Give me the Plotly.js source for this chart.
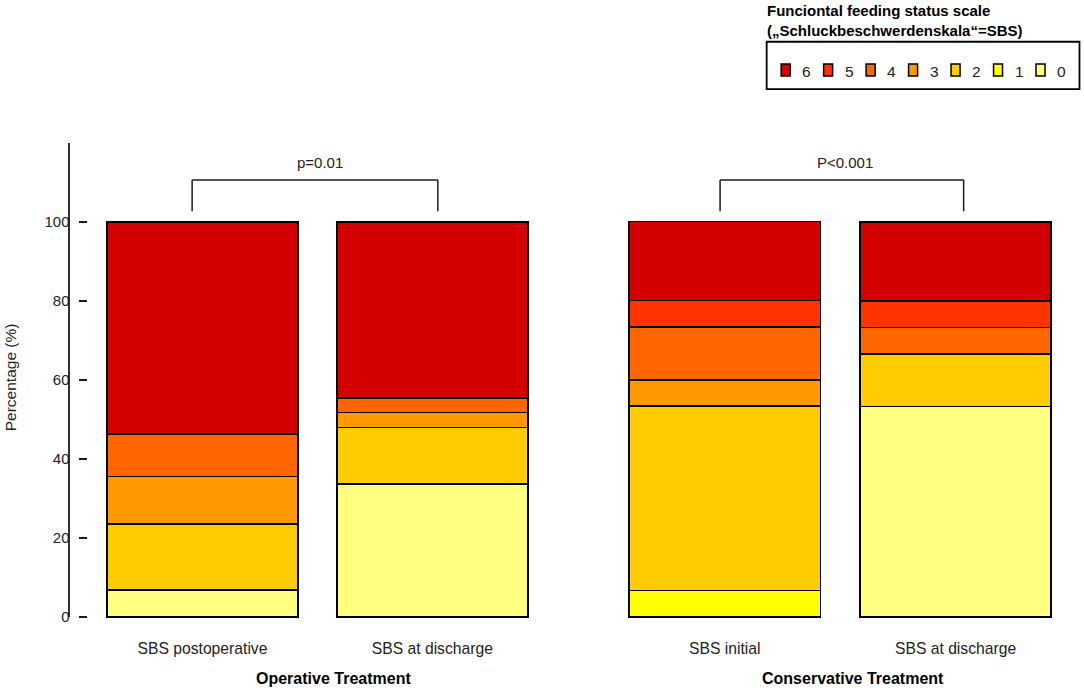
<!DOCTYPE html>
<html>
<head>
<meta charset="utf-8">
<script src="https://cdn.plot.ly/plotly-3.0.1.min.js"></script>
<style>html,body{margin:0;padding:0;background:#fff;} #chart{width:1084px;height:690px;}</style>
</head>
<body>
<div id="chart"></div>
<script>
// Categories
const opCategories = ["SBS postoperative", "SBS at discharge"];
const consCategories = ["SBS initial", "SBS at discharge"];
const groupTitles = ["Operative Treatment", "Conservative Treatment"];
const pValues = ["p=0.01", "P<0.001"];
const legendTitle = "Funciontal feeding status scale<br>(„Schluckbeschwerdenskala“=SBS)";

// Score levels (bottom to top) and colours
const scores = ["0", "1", "2", "3", "4", "5", "6"];
const scoreColors = ["#FFFF80", "#FFFF00", "#FFCC00", "#FF9900", "#FF6600", "#FF3300", "#D40000"];

// Percentages per score: operative [postoperative, discharge]
const op0 = [6.9, 33.7];
const op1 = [0, 0];
const op2 = [16.6, 14.3];
const op3 = [12.1, 3.8];
const op4 = [10.8, 3.7];
const op5 = [0, 0];
const op6 = [53.6, 44.5];

// Percentages per score: conservative [initial, discharge]
const cons0 = [0, 53.3];
const cons1 = [6.7, 0];
const cons2 = [46.7, 13.3];
const cons3 = [6.7, 0];
const cons4 = [13.3, 6.7];
const cons5 = [6.7, 6.7];
const cons6 = [20.0, 20.0];

const yTicks = [0, 20, 40, 60, 80, 100];

const opSeries = [op0, op1, op2, op3, op4, op5, op6];
const consSeries = [cons0, cons1, cons2, cons3, cons4, cons5, cons6];

// layout geometry (pixels)
const W = 1084, H = 690;
const M = {l: 69, r: 12.5, t: 138.9, b: 69.35};
const PW = W - M.l - M.r, PH = H - M.t - M.b;
const px2x = p => (p - M.l) / PW;
const px2y = p => (H - M.b - p) / PH;

const traces = [];
scores.forEach((s, i) => {
  traces.push({
    type: "bar", name: s, x: opCategories, y: opSeries[i],
    xaxis: "x", yaxis: "y",
    marker: {color: scoreColors[i], line: {color: "#000", width: 1.8}},
    legendgroup: s, showlegend: false,
    hoverinfo: "x+y+name"
  });
  traces.push({
    type: "bar", name: s, x: consCategories, y: consSeries[i],
    xaxis: "x2", yaxis: "y",
    marker: {color: scoreColors[i], line: {color: "#000", width: 1.8}},
    legendgroup: s, showlegend: false,
    hoverinfo: "x+y+name"
  });
});

const FONT = "Liberation Sans, Arial, sans-serif";
const TXT = "#222";
const lineCol = "#1a1a1a";

const shapes = [
  // y axis line from 0 to 120
  {type: "line", xref: "paper", yref: "y", x0: 0, x1: 0, y0: 0, y1: 120, line: {color: lineCol, width: 1.8}},
  // bracket operative
  {type: "line", xref: "x", yref: "y", x0: -0.045, x1: -0.045, y0: 102.7, y1: 110.6, line: {color: lineCol, width: 1.5}},
  {type: "line", xref: "x", yref: "y", x0: -0.045, x1: 1.024, y0: 110.6, y1: 110.6, line: {color: lineCol, width: 1.5}},
  {type: "line", xref: "x", yref: "y", x0: 1.024, x1: 1.024, y0: 102.7, y1: 110.6, line: {color: lineCol, width: 1.5}},
  // bracket conservative
  {type: "line", xref: "x2", yref: "y", x0: -0.02, x1: -0.02, y0: 102.7, y1: 110.6, line: {color: lineCol, width: 1.5}},
  {type: "line", xref: "x2", yref: "y", x0: -0.02, x1: 1.035, y0: 110.6, y1: 110.6, line: {color: lineCol, width: 1.5}},
  {type: "line", xref: "x2", yref: "y", x0: 1.035, x1: 1.035, y0: 102.7, y1: 110.6, line: {color: lineCol, width: 1.5}},
  // legend box
  {type: "rect", xref: "paper", yref: "paper", x0: px2x(767), x1: px2x(1080), y0: px2y(89), y1: px2y(41.7),
   line: {color: "#000", width: 1.8}, fillcolor: "rgba(0,0,0,0)"}
];

const annotations = [
  {xref: "x", yref: "y", x: 0.51, y: 115.1, xanchor: "center", yanchor: "middle", text: pValues[0], showarrow: false, font: {family: FONT, size: 15, color: TXT}},
  {xref: "x2", yref: "y", x: 0.52, y: 115.1, xanchor: "center", yanchor: "middle", text: pValues[1], showarrow: false, font: {family: FONT, size: 15, color: TXT}},
  {xref: "paper", yref: "paper", x: px2x(333.5), y: px2y(678), xanchor: "center", yanchor: "middle", text: "<b>" + groupTitles[0] + "</b>", showarrow: false, font: {family: FONT, size: 16, color: "#000"}},
  {xref: "paper", yref: "paper", x: px2x(853), y: px2y(678), xanchor: "center", yanchor: "middle", text: "<b>" + groupTitles[1] + "</b>", showarrow: false, font: {family: FONT, size: 16, color: "#000"}},
  {xref: "paper", yref: "paper", x: px2x(10), y: px2y(377), xanchor: "center", yanchor: "middle", text: "Percentage (%)", textangle: -90, showarrow: false, font: {family: FONT, size: 15.5, color: TXT}},
  {xref: "paper", yref: "paper", x: px2x(765), y: px2y(0), xanchor: "left", yanchor: "top", align: "left",
   text: "<b>" + legendTitle + "</b>", showarrow: false,
   font: {family: FONT, size: 15, color: "#000"}}
];

// legend entries (6 on the left ... 0 on the right)
scores.forEach((s, i) => {
  const k = scores.length - 1 - i;
  const cx = 786 + k * 42.5, cy = 70;
  shapes.push({type: "rect", xref: "paper", yref: "paper",
    x0: px2x(cx - 4.5), x1: px2x(cx + 4.5), y0: px2y(cy + 6), y1: px2y(cy - 6),
    fillcolor: scoreColors[i], line: {color: "#000", width: 1.5}});
  annotations.push({xref: "paper", yref: "paper", x: px2x(cx + 21), y: px2y(cy + 1),
    xanchor: "center", yanchor: "middle",
    text: s, showarrow: false, font: {family: FONT, size: 15.5, color: TXT}});
});

const layout = {
  width: W, height: H,
  margin: M,
  paper_bgcolor: "#fff", plot_bgcolor: "#fff",
  barmode: "stack", bargap: 0.17,
  font: {family: FONT, size: 15, color: TXT},
  xaxis: {domain: [0.0185, 0.4773], type: "category", showline: false, showgrid: false, zeroline: false,
          ticks: "", ticklabelstandoff: 16, tickfont: {family: FONT, size: 15.7, color: TXT}, fixedrange: true},
  xaxis2: {domain: [0.5392, 1.0], type: "category", showline: false, showgrid: false, zeroline: false,
           ticks: "", ticklabelstandoff: 16, tickfont: {family: FONT, size: 15.7, color: TXT}, anchor: "y", fixedrange: true},
  yaxis: {range: [-1, 121], tickvals: yTicks, ticktext: yTicks.map(String), ticks: "outside", ticklen: 8, tickwidth: 1.8,
          tickcolor: lineCol, showline: false, showgrid: false, zeroline: false, ticklabelstandoff: 6,
          tickfont: {family: FONT, size: 15, color: TXT}, fixedrange: true},
  showlegend: false,
  shapes: shapes,
  annotations: annotations
};

Plotly.newPlot("chart", traces, layout, {displayModeBar: false, staticPlot: true});
</script>
</body>
</html>
